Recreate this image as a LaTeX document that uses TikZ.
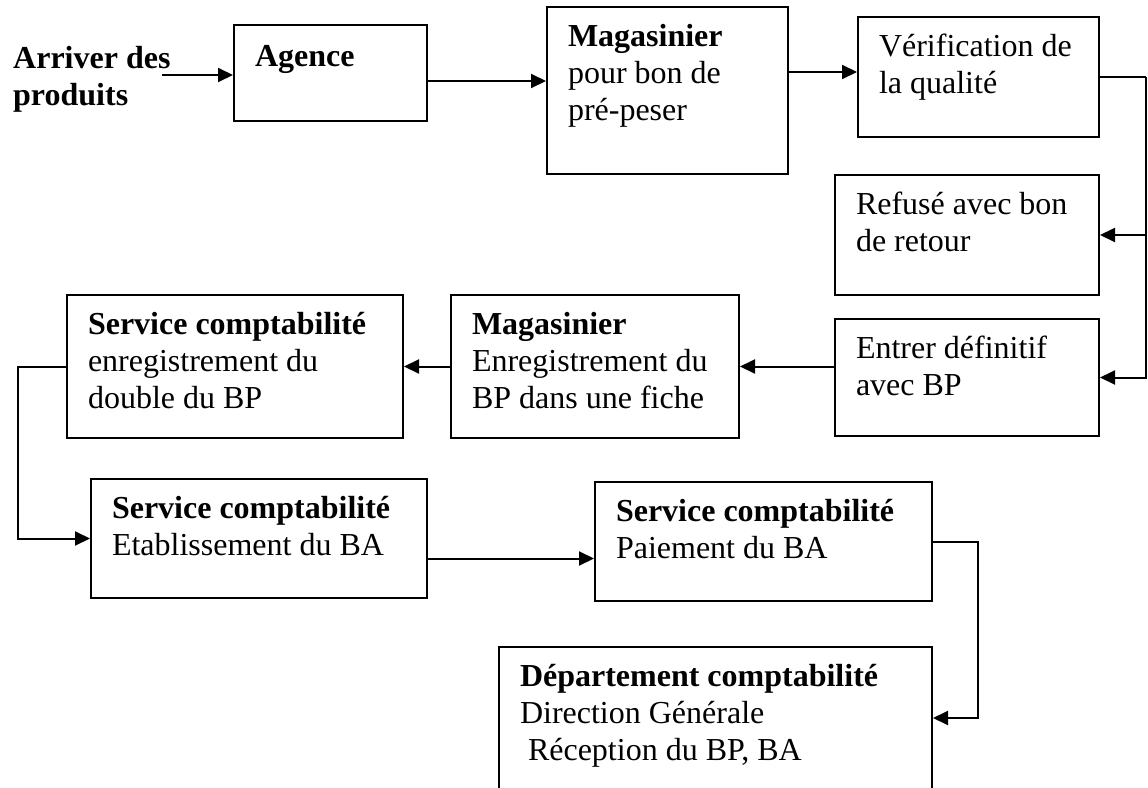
\documentclass[tikz,border=0pt]{standalone}
\usepackage{fontspec}
\setmainfont{Liberation Serif}
\usetikzlibrary{arrows.meta}

\begin{document}
\begin{tikzpicture}[x=1pt, y=-1pt,
  txt/.style={font=\fontsize{32pt}{37pt}\selectfont},
  stepbox/.style={txt, draw, line width=2pt, anchor=north west, inner xsep=21pt,
    inner ysep=0pt, align=flush left, text height=39pt},
  arr/.style={line width=2pt, -{Triangle[length=15pt,width=14pt]}},
  link/.style={line width=2pt}
]
\useasboundingbox (0,0) rectangle (1148,787);
\clip (0,0) rectangle (1148,787);

% entry label
\node[txt, anchor=base west, inner sep=0pt, text width=170pt, align=flush left] (arrivee) at (13,68)
  {\textbf{Arriver des}\\\textbf{produits}};

% top row
\node[stepbox, text height=41pt, text width=151pt, text depth=55pt] (agence) at (233,24)
  {\textbf{Agence}};
\node[stepbox, text width=199pt, text depth=128pt] (mag1) at (546,6)
  {\textbf{Magasinier}\\pour bon de\\pré-peser};
\node[stepbox, text width=199pt, text depth=81pt] (verif) at (857,16)
  {Vérification de\\la qualité};

% right column
\node[stepbox, text width=222pt, text depth=81pt] (refuse) at (834,174)
  {Refusé avec bon\\de retour};
\node[stepbox, text width=222pt, text depth=78pt] (entrer) at (834,318)
  {Entrer définitif\\avec BP};

% middle row
\node[stepbox, text width=246pt, text depth=104pt] (mag2) at (450,294)
  {\textbf{Magasinier}\\Enregistrement du\\BP dans une fiche};
\node[stepbox, text width=294pt, text depth=104pt] (serv1) at (66,294)
  {\textbf{Service comptabilité}\\enregistrement du\\double du BP};

% lower row
\node[stepbox, text width=294pt, text depth=80pt] (serv2) at (90,478)
  {\textbf{Service comptabilité}\\Etablissement du BA};
\node[stepbox, text width=295pt, text depth=80pt] (paie) at (594,481)
  {\textbf{Service comptabilité}\\Paiement du BA};
\node[stepbox, text width=391pt, text depth=125pt] (dept) at (498,646)
  {\textbf{Département comptabilité}\\Direction Générale\\\hspace*{8pt}Réception du BP, BA};

% bus lines
\coordinate (a0) at (162,75);
\coordinate (rbus) at (1146,0);
\coordinate (lbus) at (18,0);
\coordinate (bbus) at (978,718);

% connectors
\draw[arr] (a0) -- (a0 -| agence.west);
\draw[arr] ([yshift=-8pt]agence.east) -- ([yshift=-8pt]agence.east -| mag1.west);
\draw[arr] ([yshift=5pt]verif.west -| mag1.east) -- ([yshift=5pt]verif.west);
\draw[link] (verif.east) -- (verif.east -| rbus);
\draw[arr] (verif.east -| rbus) |- (refuse.east);
\draw[arr] (verif.east -| rbus) |- (entrer.east);
\draw[arr] (entrer.west |- mag2.east) -- (mag2.east);
\draw[arr] (mag2.west) -- (serv1.east);
\draw[arr] (serv1.west) -- (serv1.west -| lbus) |- (serv2.west);
\draw[arr] ([yshift=-20pt]serv2.east) -- ([yshift=-20pt]serv2.east -| paie.west);
\draw[arr] (paie.east) -| (bbus) -- (bbus -| dept.east);
\end{tikzpicture}
\end{document}
